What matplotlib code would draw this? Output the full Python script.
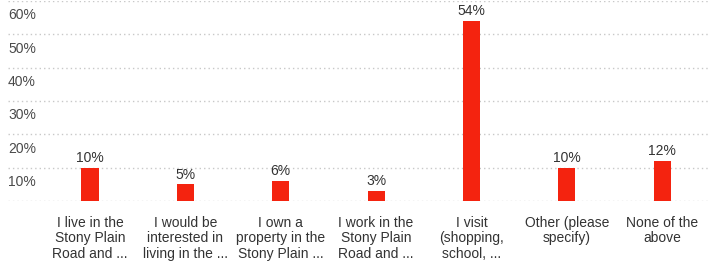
import matplotlib
matplotlib.use("Agg")
import matplotlib.pyplot as plt

plt.rcParams["font.family"] = ["Liberation Sans", "DejaVu Sans"]

# Survey answers and their shares (%)
categories = [
    "I live in the\nStony Plain\nRoad and ...",
    "I would be\ninterested in\nliving in the ...",
    "I own a\nproperty in the\nStony Plain ...",
    "I work in the\nStony Plain\nRoad and ...",
    "I visit\n(shopping,\nschool, ...",
    "Other (please\nspecify)",
    "None of the\nabove",
]
values = [10, 5, 6, 3, 54, 10, 12]
y_ticks = [10, 20, 30, 40, 50, 60]

bar_color = "#f4230f"
grid_color = "#c8c8c8"

fig = plt.figure(figsize=(7.08, 2.67), dpi=100)
ax = fig.add_axes([8 / 708, 66 / 267, 700 / 708, 200 / 267])

x = list(range(len(categories)))
ax.bar(x, values, width=0.18, color=bar_color, zorder=3)

ax.set_xlim(-0.86, 6.48)
ax.set_ylim(0, 60)

# dotted gridlines, including the baseline
for v in [0] + y_ticks:
    ax.axhline(v, color=grid_color, linestyle=(0, (1, 2.2)), linewidth=1, zorder=1)

# y labels sit a little below their gridline, flush left
for v in y_ticks:
    ax.text(0.0, v - 4.3, f"{v}%", transform=ax.get_yaxis_transform(),
            ha="left", va="center", fontsize=10, color="#4a4a4a")

# value labels above bars
for xi, v in zip(x, values):
    ax.text(xi, v + 0.8, f"{v}%", ha="center", va="bottom",
            fontsize=10, color="#333333")

# category labels under bars
for xi, lab in zip(x, categories):
    ax.text(xi, -4.6, lab, ha="center", va="top", fontsize=10,
            color="#333333", linespacing=1.1, multialignment="center")

ax.set_xticks([])
ax.set_yticks([])
for s in ax.spines.values():
    s.set_visible(False)

fig.savefig("out.png", dpi=100)
